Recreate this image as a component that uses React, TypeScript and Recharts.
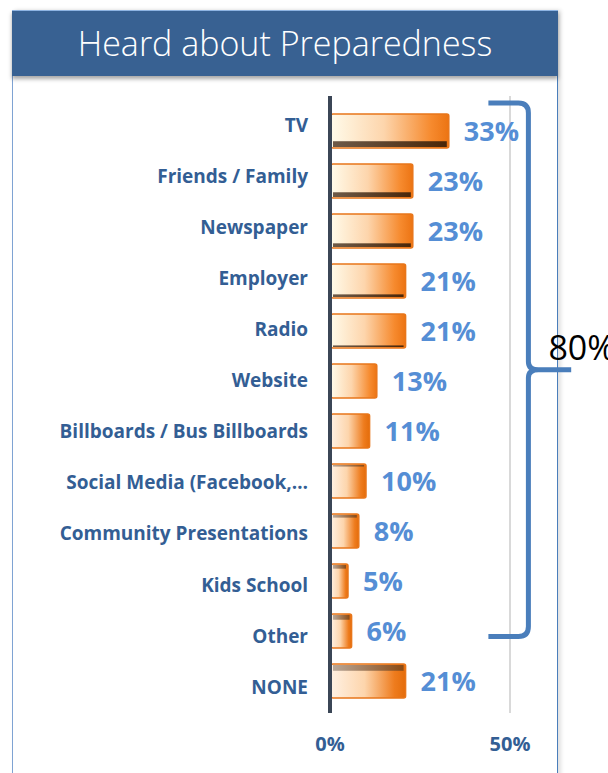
import * as React from 'react';
import {
  Bar,
  BarChart,
  CartesianGrid,
  LabelList,
  ReferenceArea,
  XAxis,
  YAxis,
} from 'recharts';

const categories = [
  'TV',
  'Friends / Family',
  'Newspaper',
  'Employer',
  'Radio',
  'Website',
  'Billboards / Bus Billboards',
  'Social Media (Facebook,…',
  'Community Presentations',
  'Kids School',
  'Other',
  'NONE',
];
const shares = [33, 23, 23, 21, 21, 13, 11, 10, 8, 5, 6, 21];
const xTicks = [0, 50];
const bracketLabel = '80%';

const data = categories.map((name, i) => ({ name, share: shares[i] }));

const FONT = '"Open Sans", "Liberation Sans", sans-serif';

// one bar, drawn with the 3D-ish strip Excel leaves on top or bottom
function Bar3D(props: any): React.JSX.Element {
  const { x, y, width, height, index } = props;
  const id = `barGrad${index}`;
  const k = index - 5.5;
  const t = Math.min(7, Math.abs(k) * 1.05);
  const lower = k > 0;
  return (
    <g>
      <defs>
        <linearGradient id={id} x1="0" y1="0" x2="1" y2="0">
          <stop offset="0" stopColor={lower ? '#FFF1E3' : '#FFFBEA'} />
          <stop offset="0.45" stopColor="#FDD5AC" />
          <stop offset="0.85" stopColor={lower ? '#EE7C1E' : '#F68A2E'} />
          <stop offset="1" stopColor={lower ? '#E46C0A' : '#EC7413'} />
        </linearGradient>
        <linearGradient id={`${id}s`} x1="0" y1="0" x2="1" y2="0">
          <stop offset="0" stopColor={lower ? '#B8A89A' : '#6E5A48'} />
          <stop offset="1" stopColor={lower ? '#8A4A14' : '#4A2608'} />
        </linearGradient>
      </defs>
      <rect
        x={x + 1}
        y={y}
        width={Math.max(0, width - 1)}
        height={height}
        rx={2}
        fill={`url(#${id})`}
        stroke="#E8761A"
        strokeWidth={1.5}
      />
      {t >= 1.5 && !lower && (
        <rect
          x={x + 3}
          y={y + height - t - 1}
          width={Math.max(0, width - 5)}
          height={t}
          fill={`url(#${id}s)`}
        />
      )}
      {t >= 1.5 && lower && (
        <rect x={x + 3} y={y + 1} width={Math.max(0, width - 5)} height={t} fill={`url(#${id}s)`} />
      )}
    </g>
  );
}

function CategoryTick(props: any): React.JSX.Element {
  const { x, y, payload, index } = props;
  return (
    <text
      x={x}
      y={y + (index - 5.5) * 1.1}
      dy="0.35em"
      textAnchor="end"
      fill="#335E94"
      fontFamily={FONT}
      fontWeight={700}
      fontSize={19}
    >
      {payload.value}
    </text>
  );
}

function PercentTick(props: any): React.JSX.Element {
  const { x, y, payload } = props;
  return (
    <text
      x={x}
      y={y}
      dy="0.71em"
      textAnchor="middle"
      fill="#335E94"
      fontFamily={FONT}
      fontWeight={700}
      fontSize={20}
    >
      {`${payload.value}%`}
    </text>
  );
}

function Bracket(props: any): React.JSX.Element {
  const { x, y, width, height } = props;
  const top = y - 3;
  const bot = y + height - 19.5;
  const xL = x;
  const xV = x + 40;
  const xR = x + width;
  const yM = (top + bot) / 2;
  const r = 10;
  const d = [
    `M ${xL} ${top} L ${xV - r} ${top} Q ${xV} ${top} ${xV} ${top + r}`,
    `L ${xV} ${yM - 8} Q ${xV} ${yM} ${xV + 10} ${yM} L ${xR} ${yM}`,
    `M ${xV + 10} ${yM} Q ${xV} ${yM} ${xV} ${yM + 8}`,
    `L ${xV} ${bot - r} Q ${xV} ${bot} ${xV - r} ${bot} L ${xL} ${bot}`,
  ].join(' ');
  return (
    <g>
      <path d={d} fill="none" stroke="#4A7EBB" strokeWidth={5} />
      <text x={xV + 20} y={yM - 10} fill="#000" fontFamily={FONT} fontSize={34}>
        {bracketLabel}
      </text>
    </g>
  );
}

export default function App(): React.JSX.Element {
  return (
    <div
      style={{
        position: 'absolute',
        left: 0,
        top: 0,
        width: 608,
        height: 773,
        overflow: 'hidden',
        background: '#fff',
      }}
    >
      <div
        style={{
          position: 'absolute',
          left: 12,
          top: 10,
          width: 544,
          height: 800,
          borderLeft: '1.5px solid #7FA3D3',
          borderRight: '1.5px solid #4A7EBB',
          boxShadow: '3px 0 4px rgba(0,0,0,0.12)',
        }}
      />
      <div
        style={{
          position: 'absolute',
          left: 12,
          top: 10,
          width: 546,
          height: 65,
          background: '#386192',
          borderTop: '1px solid #8EB4E3',
          boxShadow: '0 3px 4px rgba(0,0,0,0.35)',
          color: '#fff',
          fontFamily: FONT,
          fontWeight: 300,
          fontSize: 34,
          lineHeight: '64px',
          textAlign: 'center',
        }}
      >
        Heard about Preparedness
      </div>
      <div style={{ position: 'absolute', left: 0, top: 0 }}>
        <BarChart
          width={608}
          height={773}
          data={data}
          layout="vertical"
          margin={{ top: 96, right: 98, bottom: 0, left: 0 }}
          barSize={34}
        >
          <CartesianGrid horizontal={false} stroke="#D9D9D9" strokeWidth={2} />
          <XAxis
            type="number"
            domain={[0, 50]}
            ticks={xTicks}
            axisLine={false}
            tickLine={false}
            tickSize={0}
            tickMargin={24}
            height={60}
            tick={<PercentTick />}
          />
          <YAxis
            type="category"
            dataKey="name"
            width={330}
            padding={{ top: 10, bottom: 7 }}
            axisLine={{ stroke: '#3B4656', strokeWidth: 4 }}
            tickLine={false}
            tickSize={0}
            tickMargin={22}
            interval={0}
            tick={<CategoryTick />}
          />
          <Bar dataKey="share" shape={(p: any) => <Bar3D {...p} />} isAnimationActive={false}>
            <LabelList
              dataKey="share"
              position="right"
              offset={15}
              formatter={(v: any) => `${v}%`}
              fill="#558ED5"
              fontFamily={FONT}
              fontWeight={700}
              fontSize={27}
            />
          </Bar>
          <ReferenceArea
            x1={44}
            x2={67}
            y1="TV"
            y2="Other"
            ifOverflow="visible"
            shape={(p: any) => <Bracket {...p} />}
          />
        </BarChart>
      </div>
    </div>
  );
}
